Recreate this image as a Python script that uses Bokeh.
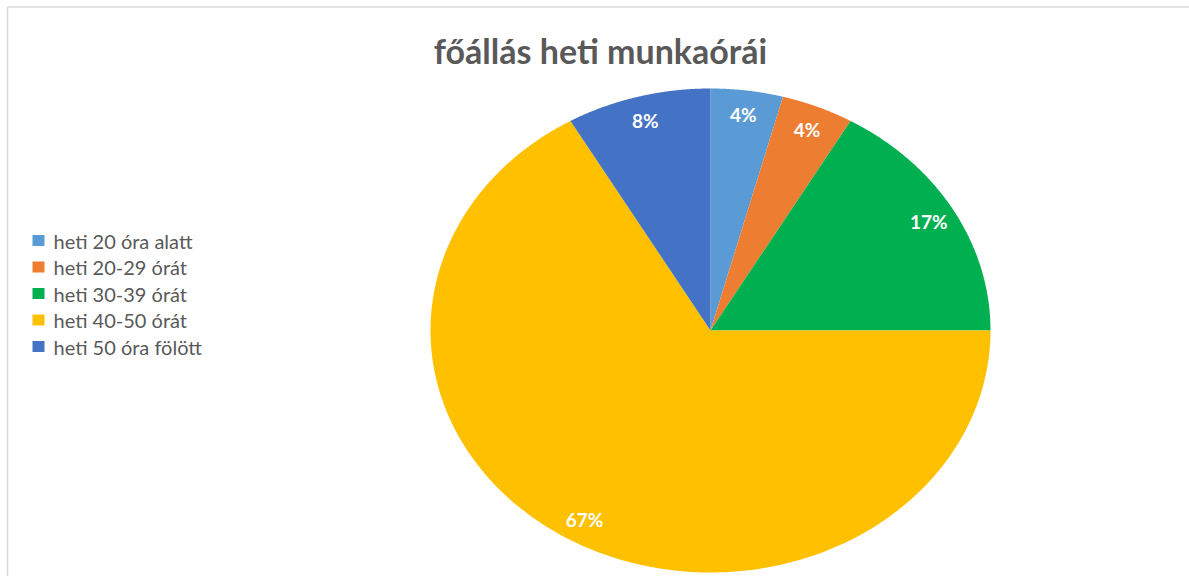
import numpy as np
from bokeh.plotting import figure
from bokeh.models import Range1d
from bokeh.core.properties import value
from bokeh.embed import file_html
from bokeh.resources import INLINE

title = "főállás heti munkaórái"
categories = ["heti 20 óra alatt", "heti  20-29 órát", "heti 30-39 órát",
              "heti 40-50 órát", "heti 50 óra fölött"]
counts = [1, 1, 4, 16, 2]
colors = ["#5B9BD5", "#ED7D31", "#00B050", "#FFC000", "#4472C4"]

W, H = 1189, 576
p = figure(width=W, height=H, output_backend="svg", toolbar_location=None,
           x_range=Range1d(0, W), y_range=Range1d(H, 0),
           min_border=0, outline_line_color=None)
p.axis.visible = False
p.grid.visible = False
p.background_fill_color = "white"
p.border_fill_color = "white"

# chart border (top and left visible)
p.segment(x0=[7, 7], y0=[6.5, 6.5], x1=[1189, 7], y1=[6.5, 576],
          line_color="#d9d9d9", line_width=1.5)

cx, cy, rx, ry = 710, 330, 280, 242
vals = np.array(counts, dtype=float)
frac = vals / vals.sum()
cum = np.concatenate([[0], np.cumsum(frac)])

xs, ys = [], []
lx, ly, labels = [], [], []
for i in range(len(vals)):
    a0, a1 = cum[i] * 2 * np.pi, cum[i + 1] * 2 * np.pi
    t = np.linspace(a0, a1, 200)
    px = np.concatenate([[cx], cx + rx * np.sin(t)])
    py = np.concatenate([[cy], cy - ry * np.cos(t)])
    xs.append(list(px)); ys.append(list(py))
    am = (a0 + a1) / 2
    lx.append(cx + 0.9 * rx * np.sin(am))
    ly.append(cy - 0.9 * ry * np.cos(am))
    labels.append(f"{round(frac[i] * 100):.0f}%")

p.patches(xs=xs, ys=ys, fill_color=colors, line_color=None)
p.text(x=lx, y=ly, text=labels, text_color="white", text_font=value("Lato"),
       text_font_style="bold", text_font_size="19px", text_align="center",
       text_baseline="middle")

# title
p.text(x=[600], y=[50], text=[title], text_color="#595959",
       text_font=value("Lato"), text_font_style="bold", text_font_size="34px",
       text_align="center", text_baseline="middle")

# legend
ly0, dy = 240, 26.5
leg_y = [ly0 + i * dy for i in range(len(categories))]
p.rect(x=[38] * len(categories), y=leg_y, width=12, height=11,
       fill_color=colors, line_color=None)
p.text(x=[53] * len(categories), y=leg_y, text=categories, text_color="#595959",
       text_font=value("Lato"), text_font_size="20px", text_align="left",
       text_baseline="middle")

open("out.html", "w").write(file_html(p, INLINE))
